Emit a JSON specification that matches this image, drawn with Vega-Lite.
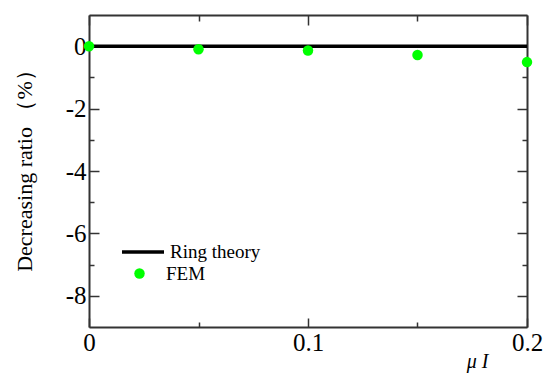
{
  "$schema": "https://vega.github.io/schema/vega-lite/v6.json",
  "width": 438,
  "height": 312,
  "autosize": "none",
  "padding": {"left": 89, "top": 15, "right": 17, "bottom": 47},
  "config": {
    "view": {"stroke": null},
    "font": "Liberation Serif",
    "axis": {
      "grid": false,
      "domainColor": "#333",
      "domainWidth": 2,
      "tickColor": "#333",
      "tickWidth": 1.5,
      "labelFont": "Liberation Serif",
      "labelFontSize": 25,
      "labelColor": "black",
      "labelFlush": false,
      "titleFont": "Liberation Serif",
      "titleColor": "black",
      "titleFontWeight": "normal"
    },
    "legend": {
      "labelFont": "Liberation Serif",
      "labelFontSize": 19,
      "labelColor": "black",
      "padding": 0,
      "rowPadding": 0
    }
  },
  "datasets": {
    "ring": [
      {"mu": 0, "ratio": 0, "series": "Ring theory"},
      {"mu": 0.2, "ratio": 0, "series": "Ring theory"}
    ],
    "fem": [
      {"mu": 0, "ratio": 0, "series": "FEM"},
      {"mu": 0.05, "ratio": -0.1, "series": "FEM"},
      {"mu": 0.1, "ratio": -0.14, "series": "FEM"},
      {"mu": 0.15, "ratio": -0.28, "series": "FEM"},
      {"mu": 0.2, "ratio": -0.51, "series": "FEM"}
    ]
  },
  "layer": [
    {
      "data": {"name": "ring"},
      "mark": {"type": "line", "strokeWidth": 3.5},
      "encoding": {
        "x": {
          "field": "mu", "type": "quantitative",
          "scale": {"domain": [0, 0.2], "nice": false, "zero": false},
          "axis": {
            "orient": "bottom", "values": [0, 0.1, 0.2], "format": "~g", "tickSize": -9,
            "labelPadding": 12, "labelBaseline": "top", "labelFlush": false,
            "labelFont": "Liberation Serif",
            "title": "μ I", "titleFontStyle": "italic", "titleFontSize": 20,
            "titleAlign": "right", "titleAnchor": "end", "titleX": 399, "titleY": 40,
            "titleBaseline": "alphabetic"
          }
        },
        "y": {
          "field": "ratio", "type": "quantitative",
          "scale": {"domain": [-9, 1], "nice": false, "zero": false},
          "axis": {
            "orient": "left", "values": [0, -2, -4, -6, -8], "tickSize": -10,
            "labelExpr": "datum.value < 0 ? '-' + abs(datum.value) : '' + datum.value",
            "labelPadding": 13, "labelFont": "Liberation Serif",
            "title": "Decreasing ratio （%）", "titleFontSize": 22,
            "titleAngle": -90, "titleX": -65, "titleY": 150, "titleAlign": "center",
            "titleBaseline": "middle"
          }
        },
        "color": {
          "field": "series", "type": "nominal",
          "scale": {"domain": ["Ring theory"], "range": ["black"]},
          "legend": {
            "orient": "none", "legendX": 31, "legendY": 214, "title": null,
            "symbolType": "stroke", "symbolSize": 1764, "symbolStrokeWidth": 3.5,
            "labelOffset": 4
          }
        }
      }
    },
    {
      "data": {"name": "fem"},
      "mark": {"type": "point", "filled": true, "size": 110, "opacity": 1, "strokeWidth": 0},
      "encoding": {
        "x": {
          "field": "mu", "type": "quantitative",
          "axis": {"orient": "top", "values": [0, 0.1, 0.2], "tickSize": -10, "labels": false, "title": null}
        },
        "y": {
          "field": "ratio", "type": "quantitative",
          "axis": {"orient": "right", "values": [0, -2, -4, -6, -8], "tickSize": -10, "labels": false, "title": null}
        },
        "fill": {
          "field": "series", "type": "nominal",
          "scale": {"domain": ["FEM"], "range": ["#00ff00"]},
          "legend": {
            "orient": "none", "legendX": 41, "legendY": 249, "title": null,
            "symbolType": "circle", "symbolSize": 110, "symbolStrokeWidth": 0,
            "symbolOpacity": 1, "labelOffset": 17
          }
        }
      }
    },
    {
      "data": {"name": "fem"},
      "mark": {"type": "point", "opacity": 0},
      "encoding": {
        "x": {
          "field": "mu", "type": "quantitative",
          "axis": {"orient": "bottom", "values": [0.05, 0.15], "tickSize": -5, "labels": false, "domain": false, "title": null}
        },
        "y": {
          "field": "ratio", "type": "quantitative",
          "axis": {"orient": "left", "values": [-1, -3, -5, -7], "tickSize": -5, "labels": false, "domain": false, "title": null}
        }
      }
    },
    {
      "data": {"name": "fem"},
      "mark": {"type": "point", "opacity": 0},
      "encoding": {
        "x": {
          "field": "mu", "type": "quantitative",
          "axis": {"orient": "top", "values": [0.05, 0.15], "tickSize": -6, "labels": false, "domain": false, "title": null}
        },
        "y": {
          "field": "ratio", "type": "quantitative",
          "axis": {"orient": "right", "values": [-1, -3, -5, -7], "tickSize": -5, "labels": false, "domain": false, "title": null}
        }
      }
    }
  ],
  "resolve": {"axis": {"x": "independent", "y": "independent"}}
}
